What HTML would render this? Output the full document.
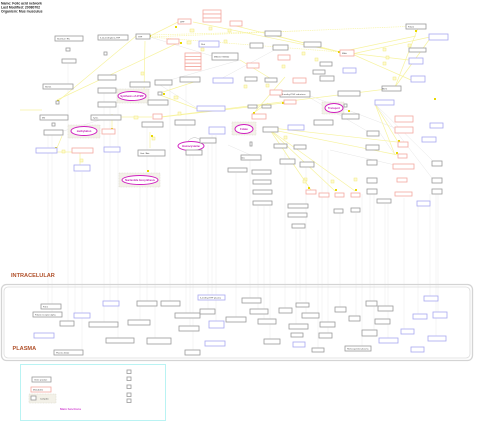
<!DOCTYPE html>
<html><head><meta charset="utf-8"><style>
html,body{margin:0;padding:0;background:#fff;width:480px;height:428px;overflow:hidden}
svg{display:block}
.g{fill:#fff;stroke:#9a9a9a;stroke-width:0.8}
.p{fill:#fff;stroke:#f4a8a0;stroke-width:0.8}
.b{fill:#fff;stroke:#a8a8f0;stroke-width:0.8}
.t{font-family:"Liberation Sans",sans-serif;font-size:2.2px;fill:#444}
.y{stroke:#f7f3a0;stroke-width:0.7;fill:none}
.yd{stroke:#f7f3a0;stroke-width:0.7;fill:none;stroke-dasharray:1,0.8}
.v{stroke:#ececec;stroke-width:0.5}
.el{fill:#fff;stroke:#d020c0;stroke-width:1}
.et{font-family:"Liberation Sans",sans-serif;font-size:2.6px;fill:#c010b0;font-weight:bold}
.grp{fill:#f3f1e8;stroke:#d8d6c8;stroke-width:0.5;stroke-dasharray:1,0.6}
</style></head><body>
<svg width="480" height="428" viewBox="0 0 480 428" xmlns="http://www.w3.org/2000/svg">
<g font-family="Liberation Sans" font-weight="bold" font-size="3.4" fill="#222">
<text x="1" y="4.5">Name: Folic acid network</text>
<text x="1" y="8.5">Last Modified: 20080702</text>
<text x="1" y="12.5">Organism: Mus musculus</text>
</g>
<!-- faint vertical lines -->
<g class="v">
<line x1="48" y1="135" x2="48" y2="304"/><line x1="52" y1="135" x2="52" y2="312"/><line x1="68" y1="64" x2="68" y2="321"/>
<line x1="75" y1="172" x2="75" y2="313"/><line x1="82" y1="172" x2="82" y2="350"/><line x1="104" y1="90" x2="104" y2="322"/>
<line x1="110" y1="105" x2="110" y2="302"/><line x1="118" y1="105" x2="118" y2="338"/><line x1="140" y1="186" x2="140" y2="321"/>
<line x1="147" y1="127" x2="147" y2="301"/><line x1="155" y1="155" x2="155" y2="339"/><line x1="170" y1="85" x2="170" y2="301"/>
<line x1="186" y1="83" x2="186" y2="313"/><line x1="190" y1="155" x2="190" y2="326"/><line x1="193" y1="155" x2="193" y2="350"/>
<line x1="208" y1="145" x2="208" y2="309"/><line x1="212" y1="135" x2="212" y2="295"/><line x1="216" y1="135" x2="216" y2="321"/>
<line x1="236" y1="173" x2="236" y2="317"/><line x1="250" y1="160" x2="250" y2="299"/><line x1="258" y1="206" x2="258" y2="311"/>
<line x1="264" y1="206" x2="264" y2="320"/><line x1="270" y1="206" x2="270" y2="339"/><line x1="285" y1="150" x2="285" y2="309"/>
<line x1="296" y1="230" x2="296" y2="324"/><line x1="300" y1="230" x2="300" y2="301"/><line x1="306" y1="167" x2="306" y2="319"/>
<line x1="322" y1="150" x2="322" y2="322"/><line x1="328" y1="150" x2="328" y2="334"/><line x1="340" y1="213" x2="340" y2="307"/>
<line x1="356" y1="213" x2="356" y2="317"/><line x1="370" y1="194" x2="370" y2="301"/><line x1="374" y1="194" x2="374" y2="331"/>
<line x1="385" y1="204" x2="385" y2="306"/><line x1="388" y1="204" x2="388" y2="338"/><line x1="404" y1="198" x2="404" y2="329"/>
<line x1="418" y1="206" x2="418" y2="314"/><line x1="430" y1="194" x2="430" y2="296"/><line x1="438" y1="194" x2="438" y2="312"/>
<line x1="436" y1="194" x2="436" y2="336"/><line x1="362" y1="194" x2="362" y2="346"/><line x1="318" y1="230" x2="318" y2="348"/>
</g>
<!-- faint gray connectors -->
<g stroke="#e6e6e6" stroke-width="0.5" fill="none">
<line x1="150" y1="37" x2="212" y2="56"/><line x1="170" y1="80" x2="240" y2="60"/><line x1="215" y1="82" x2="280" y2="47"/>
<line x1="300" y1="92" x2="367" y2="131"/><line x1="300" y1="92" x2="395" y2="128"/><line x1="375" y1="104" x2="432" y2="160"/>
<line x1="375" y1="104" x2="432" y2="178"/><line x1="380" y1="133" x2="395" y2="155"/><line x1="330" y1="150" x2="395" y2="165"/>
<line x1="228" y1="145" x2="262" y2="160"/><line x1="60" y1="132" x2="100" y2="120"/><line x1="160" y1="85" x2="200" y2="110"/>
</g>
<!-- yellow connectors -->
<g>
<path class="yd" d="M150 37 L418 26"/><path class="yd" d="M150 35 L300 31"/><path class="yd" d="M150 37 L340 52"/>
<path class="y" d="M150 36 L178 22"/><path class="y" d="M57 102 L136 36"/><path class="y" d="M57 100 L180 42"/>
<path class="y" d="M193 22 L340 52"/><path class="y" d="M232 25 L340 52"/><path class="y" d="M265 33 L340 52"/>
<path class="y" d="M340 52 L416 36"/><path class="y" d="M340 52 L409 60"/><path class="y" d="M352 54 L430 37"/>
<path class="y" d="M352 54 L411 80"/><path class="y" d="M395 87 L418 28"/><path class="y" d="M395 87 L429 40"/>
<path class="y" d="M145 41 L144 92"/><path class="y" d="M160 93 L200 80"/><path class="y" d="M160 95 L200 110"/>
<path class="y" d="M95 117 L152 117"/><path class="y" d="M162 117 L283 103"/><path class="y" d="M160 117 L395 88"/>
<path class="y" d="M112 114 L112 131"/><path class="y" d="M150 132 L150 148"/><path class="y" d="M40 152 L75 152"/>
<path class="y" d="M80 152 L80 165"/><path class="y" d="M42 110 L20 110"/><path class="y" d="M268 103 L252 114"/>
<path class="y" d="M263 127 L397 142"/><path class="y" d="M263 128 L398 155"/><path class="y" d="M270 130 L311 190"/>
<path class="y" d="M270 130 L335 191"/><path class="y" d="M270 130 L355 191"/><path class="y" d="M375 104 L398 142"/>
<path class="y" d="M375 104 L395 155"/><path class="y" d="M285 77 L253 114"/><path class="y" d="M273 80 L240 60"/>
<path class="y" d="M62 136 L57 148"/>
</g>
<!-- yellow small squares / arrowheads -->
<g fill="#fffbd0" stroke="#f0e880" stroke-width="0.5">
<rect x="190" y="29" width="4" height="3"/><rect x="209" y="27" width="3" height="3"/><rect x="228" y="29" width="3" height="3"/>
<rect x="187" y="41" width="4" height="3"/><rect x="201" y="48" width="3" height="3"/><rect x="224" y="40" width="3" height="3"/>
<rect x="141" y="72" width="3" height="3"/><rect x="174" y="96" width="4" height="3"/><rect x="134" y="116" width="4" height="3"/>
<rect x="178" y="112" width="3" height="3"/><rect x="62" y="150" width="3" height="3"/><rect x="80" y="159" width="3" height="3"/>
<rect x="152" y="137" width="3" height="3"/><rect x="302" y="52" width="3" height="3"/><rect x="315" y="58" width="3" height="3"/>
<rect x="282" y="65" width="3" height="3"/><rect x="266" y="84" width="3" height="3"/><rect x="244" y="85" width="3" height="3"/>
<rect x="383" y="48" width="3" height="3"/><rect x="408" y="44" width="3" height="3"/><rect x="386" y="56" width="3" height="3"/>
<rect x="383" y="62" width="3" height="3"/><rect x="393" y="77" width="3" height="3"/><rect x="304" y="178" width="3" height="3"/>
<rect x="331" y="180" width="3" height="3"/><rect x="354" y="178" width="3" height="3"/><rect x="284" y="136" width="3" height="3"/>
<rect x="303" y="180" width="3" height="3"/>
</g>
<g fill="#e8d800">
<rect x="149" y="35" width="2" height="2"/><rect x="338" y="51" width="2" height="2"/><rect x="346" y="51" width="2" height="2"/>
<rect x="57" y="100" width="2" height="2"/><rect x="175" y="26" width="2" height="2"/><rect x="198" y="55" width="2" height="2"/>
<rect x="180" y="42" width="2" height="2"/><rect x="163" y="93" width="2" height="2"/><rect x="153" y="117" width="2" height="2"/>
<rect x="111" y="128" width="2" height="2"/><rect x="151" y="135" width="2" height="2"/><rect x="73" y="151" width="2" height="2"/>
<rect x="55" y="147" width="2" height="2"/><rect x="348" y="110" width="2" height="2"/><rect x="415" y="30" width="2" height="2"/>
<rect x="398" y="140" width="2" height="2"/><rect x="396" y="152" width="2" height="2"/><rect x="282" y="102" width="2" height="2"/>
<rect x="253" y="112" width="2" height="2"/><rect x="147" y="170" width="2" height="2"/><rect x="308" y="187" width="2" height="2"/>
<rect x="335" y="189" width="2" height="2"/><rect x="355" y="189" width="2" height="2"/><rect x="434" y="98" width="2" height="2"/>
</g>
<!-- groups -->
<rect class="grp" x="117" y="89" width="32" height="14"/>
<rect class="grp" x="68" y="125" width="32" height="13"/>
<rect class="grp" x="119" y="173" width="41" height="14"/>
<rect class="grp" x="322" y="102" width="22" height="12"/>
<rect class="grp" x="232" y="122" width="24" height="13"/>
<!-- ellipses -->
<ellipse class="el" cx="132" cy="96" rx="14" ry="4.5"/><text class="et" x="132" y="97" text-anchor="middle">Synthesis of dTMP</text>
<ellipse class="el" cx="84" cy="131" rx="13" ry="4.5"/><text class="et" x="84" y="132" text-anchor="middle">methylation</text>
<ellipse class="el" cx="191" cy="146" rx="13" ry="4.5"/><text class="et" x="191" y="147" text-anchor="middle">Homocysteine</text>
<ellipse class="el" cx="140" cy="180" rx="18" ry="4.5"/><text class="et" x="140" y="181" text-anchor="middle">Nucleotide biosynthesis</text>
<ellipse class="el" cx="334" cy="108" rx="9" ry="4.5"/><text class="et" x="334" y="109" text-anchor="middle">Transport</text>
<ellipse class="el" cx="244" cy="129" rx="9" ry="4.5"/><text class="et" x="244" y="130" text-anchor="middle">Folate</text>
<path d="M188 141 Q194 134 202 141" stroke="#bbb" stroke-width="0.5" fill="none"/>
<!-- gray nodes -->
<g class="g">
<rect x="55" y="36" width="28" height="5"/><rect x="98" y="35" width="30" height="5"/><rect x="136" y="34" width="14" height="5"/>
<rect x="62" y="59" width="14" height="4"/><rect x="98" y="75" width="18" height="5"/><rect x="98" y="88" width="18" height="5"/>
<rect x="98" y="102" width="18" height="5"/><rect x="130" y="82" width="20" height="5"/><rect x="155" y="80" width="17" height="5"/>
<rect x="180" y="77" width="20" height="5"/><rect x="43" y="84" width="30" height="5"/><rect x="40" y="115" width="28" height="5"/>
<rect x="91" y="115" width="30" height="5"/><rect x="44" y="130" width="19" height="5"/><rect x="142" y="122" width="21" height="5"/>
<rect x="175" y="120" width="20" height="5"/><rect x="138" y="150" width="27" height="6"/><rect x="186" y="150" width="16" height="5"/>
<rect x="200" y="138" width="16" height="5"/><rect x="212" y="53" width="26" height="7"/><rect x="148" y="100" width="20" height="5"/>
<rect x="66" y="48" width="4" height="3"/><rect x="104" y="52" width="3" height="3"/><rect x="158" y="92" width="4" height="3"/>
<rect x="56" y="101" width="3" height="3"/><rect x="52" y="123" width="3" height="3"/>
<rect x="265" y="31" width="16" height="5"/><rect x="250" y="43" width="13" height="5"/><rect x="273" y="45" width="15" height="5"/>
<rect x="304" y="42" width="17" height="5"/><rect x="406" y="24" width="20" height="5"/><rect x="409" y="48" width="17" height="4"/>
<rect x="320" y="62" width="12" height="4"/><rect x="313" y="70" width="12" height="4"/><rect x="320" y="76" width="14" height="5"/>
<rect x="280" y="91" width="30" height="6"/><rect x="342" y="114" width="17" height="5"/><rect x="314" y="120" width="19" height="5"/>
<rect x="382" y="86" width="19" height="5"/><rect x="367" y="131" width="12" height="5"/><rect x="366" y="145" width="13" height="5"/>
<rect x="367" y="160" width="10" height="5"/><rect x="367" y="178" width="10" height="5"/><rect x="367" y="189" width="10" height="5"/>
<rect x="432" y="161" width="10" height="5"/><rect x="432" y="178" width="10" height="5"/><rect x="432" y="189" width="10" height="5"/>
<rect x="263" y="127" width="15" height="5"/><rect x="274" y="144" width="13" height="4"/><rect x="294" y="145" width="12" height="4"/>
<rect x="241" y="155" width="20" height="5"/><rect x="228" y="168" width="19" height="4"/><rect x="252" y="170" width="19" height="4"/>
<rect x="253" y="180" width="18" height="4"/><rect x="253" y="190" width="19" height="4"/><rect x="253" y="201" width="19" height="4"/>
<rect x="280" y="159" width="15" height="5"/><rect x="300" y="162" width="14" height="5"/><rect x="288" y="204" width="20" height="4"/>
<rect x="288" y="213" width="19" height="4"/><rect x="292" y="224" width="13" height="4"/><rect x="334" y="209" width="9" height="4"/>
<rect x="351" y="208" width="9" height="4"/><rect x="377" y="199" width="14" height="4"/><rect x="265" y="78" width="12" height="4"/>
<rect x="248" y="105" width="9" height="3"/><rect x="262" y="105" width="9" height="3"/><rect x="245" y="77" width="12" height="4"/>
<rect x="338" y="91" width="22" height="5"/><rect x="344" y="104" width="3" height="3"/><rect x="250" y="142" width="2" height="4"/>
</g>
<!-- pink nodes -->
<g class="p">
<rect x="178" y="19" width="13" height="5"/><rect x="203" y="10" width="18" height="4"/><rect x="203" y="14" width="18" height="4"/>
<rect x="203" y="18" width="18" height="4"/><rect x="230" y="21" width="12" height="5"/><rect x="167" y="39" width="12" height="5"/>
<rect x="185" y="53" width="16" height="3.4"/><rect x="185" y="56.4" width="16" height="3.4"/><rect x="185" y="59.8" width="16" height="3.4"/>
<rect x="185" y="63.2" width="16" height="3.4"/><rect x="185" y="66.6" width="16" height="3.4"/>
<rect x="102" y="129" width="13" height="5"/><rect x="153" y="114" width="9" height="5"/><rect x="72" y="148" width="21" height="5"/>
<rect x="340" y="50" width="14" height="6"/><rect x="247" y="63" width="12" height="5"/><rect x="278" y="55" width="12" height="5"/>
<rect x="293" y="78" width="13" height="5"/><rect x="270" y="90" width="12" height="5"/><rect x="284" y="100" width="12" height="4"/>
<rect x="252" y="114" width="14" height="5"/><rect x="395" y="116" width="18" height="6"/><rect x="395" y="127" width="18" height="6"/>
<rect x="398" y="142" width="10" height="5"/><rect x="398" y="154" width="9" height="4"/><rect x="393" y="164" width="21" height="5"/>
<rect x="397" y="178" width="10" height="4"/><rect x="395" y="192" width="17" height="4"/><rect x="306" y="190" width="10" height="4"/>
<rect x="319" y="193" width="10" height="4"/><rect x="335" y="193" width="9" height="4"/><rect x="351" y="193" width="9" height="4"/>
<rect x="306" y="191" width="0" height="0"/>
</g>
<!-- blue nodes -->
<g class="b">
<rect x="199" y="41" width="20" height="6"/><rect x="213" y="78" width="20" height="5"/><rect x="197" y="106" width="28" height="5"/>
<rect x="36" y="148" width="21" height="5"/><rect x="104" y="147" width="16" height="5"/><rect x="74" y="165" width="16" height="6"/>
<rect x="209" y="127" width="16" height="7"/><rect x="409" y="58" width="14" height="6"/><rect x="429" y="34" width="19" height="6"/>
<rect x="343" y="68" width="13" height="5"/><rect x="411" y="76" width="14" height="6"/><rect x="375" y="100" width="19" height="5"/>
<rect x="430" y="123" width="13" height="5"/><rect x="422" y="137" width="14" height="5"/><rect x="288" y="125" width="16" height="5"/>
<rect x="417" y="201" width="13" height="5"/>
</g>
<!-- node text placeholders -->
<g class="t">
<text x="57" y="39.5">Slc19a1 / Rfc</text><text x="100" y="38.5">5,10-methylene-THF</text><text x="138" y="37.5">THF</text>
<text x="214" y="57.5">Mthfd1 / Mthfd2</text><text x="282" y="95">5-methyl-THF reductase</text><text x="408" y="27.5">Folate</text>
<text x="180" y="22.5">DHF</text><text x="342" y="54">Mthfr</text><text x="201" y="45">Dhfr</text>
<text x="45" y="87.5">Shmt1</text><text x="42" y="118.5">Mtr</text><text x="93" y="118.5">Tyms</text>
<text x="140" y="154">Gart / Atic</text><text x="382" y="89.5">Bhmt</text><text x="241" y="158.5">Cbs</text>
</g>
<!-- compartment -->
<text x="11" y="277" font-family="Liberation Sans" font-weight="bold" font-size="5.6" fill="#b0502a">INTRACELULAR</text>
<rect x="1.5" y="284.5" width="471" height="76" rx="5" fill="none" stroke="#d4d4d4" stroke-width="1.3"/>
<rect x="4" y="287" width="466" height="71" rx="4" fill="none" stroke="#dcdcdc" stroke-width="0.8"/>
<text x="12.5" y="350" font-family="Liberation Sans" font-weight="bold" font-size="5.6" fill="#b0502a">PLASMA</text>
<!-- plasma nodes -->
<g class="g">
<rect x="41" y="304" width="20" height="5"/><rect x="33" y="312" width="29" height="5"/><rect x="60" y="321" width="14" height="5"/>
<rect x="89" y="322" width="29" height="5"/><rect x="128" y="320" width="22" height="5"/><rect x="137" y="301" width="20" height="5"/>
<rect x="161" y="301" width="19" height="5"/><rect x="106" y="338" width="28" height="5"/><rect x="147" y="338" width="24" height="6"/>
<rect x="175" y="313" width="25" height="5"/><rect x="179" y="326" width="20" height="5"/><rect x="200" y="309" width="15" height="5"/>
<rect x="226" y="317" width="20" height="5"/><rect x="242" y="298" width="19" height="5"/><rect x="250" y="309" width="18" height="5"/>
<rect x="258" y="319" width="18" height="5"/><rect x="185" y="350" width="15" height="5"/><rect x="264" y="339" width="16" height="5"/>
<rect x="279" y="308" width="13" height="5"/><rect x="296" y="303" width="13" height="4"/><rect x="289" y="324" width="19" height="5"/>
<rect x="302" y="313" width="17" height="5"/><rect x="291" y="333" width="12" height="4"/><rect x="320" y="322" width="15" height="5"/>
<rect x="319" y="333" width="13" height="5"/><rect x="335" y="307" width="11" height="5"/><rect x="349" y="316" width="11" height="5"/>
<rect x="366" y="301" width="11" height="5"/><rect x="378" y="306" width="15" height="5"/><rect x="375" y="319" width="15" height="5"/>
<rect x="362" y="330" width="15" height="6"/><rect x="345" y="346" width="26" height="5"/><rect x="312" y="348" width="12" height="4"/>
<rect x="54" y="350" width="29" height="5"/>
</g>
<g class="b">
<rect x="34" y="333" width="20" height="5"/><rect x="74" y="313" width="16" height="5"/><rect x="103" y="301" width="16" height="5"/>
<rect x="198" y="295" width="27" height="5"/><rect x="209" y="321" width="15" height="7"/><rect x="205" y="341" width="20" height="5"/>
<rect x="293" y="342" width="12" height="5"/><rect x="424" y="296" width="14" height="5"/><rect x="413" y="314" width="14" height="5"/>
<rect x="433" y="312" width="14" height="6"/><rect x="401" y="329" width="13" height="5"/><rect x="428" y="336" width="18" height="5"/>
<rect x="379" y="338" width="19" height="5"/><rect x="411" y="347" width="13" height="5"/>
</g>
<g class="t">
<text x="43" y="307.5">Folr1</text><text x="35" y="315.5">Folate receptor alpha</text><text x="56" y="353.5">Plasma folate</text>
<text x="200" y="298.5">5-methyl-THF plasma</text><text x="347" y="349.5">Homocysteine plasma</text>
</g>
<!-- legend -->
<rect x="20.5" y="364.5" width="145" height="56" fill="none" stroke="#a8f0f0" stroke-width="0.8"/>
<rect x="32" y="377" width="19" height="5" class="g"/><text class="t" x="34" y="380.5">Gene product</text>
<rect x="31" y="387" width="20" height="5" class="p"/><text class="t" x="33" y="390.5" fill="#e08080">Metabolite</text>
<rect x="29" y="394" width="27" height="9" class="grp"/><rect x="31" y="396" width="5" height="4" class="g"/><text class="t" x="40" y="399.5">Complex</text>
<text x="60" y="410" font-family="Liberation Sans" font-size="3" font-weight="bold" fill="#d040d0">Main functions</text>
<g class="g"><rect x="127" y="370" width="4" height="3.5"/><rect x="127" y="377" width="4" height="3.5"/><rect x="127" y="385" width="4" height="3.5"/>
<rect x="127" y="393" width="4" height="3.5"/><rect x="127" y="399" width="4" height="3.5"/></g>
</svg>
</body></html>
